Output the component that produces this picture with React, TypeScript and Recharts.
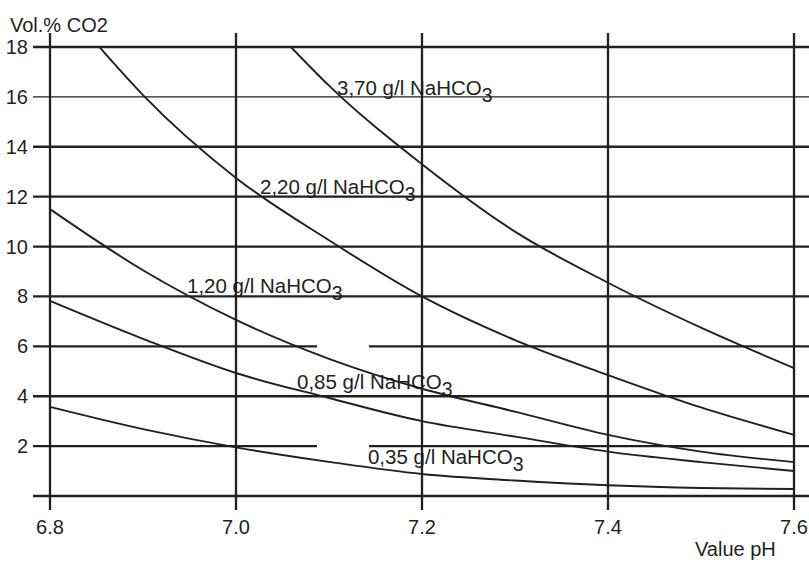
import React from "react";
import { LineChart, Line, XAxis, YAxis, ReferenceLine, ReferenceDot } from "recharts";

// ---- Data ----
const PH = [6.8, 6.9, 7.0, 7.1, 7.2, 7.3, 7.4, 7.5, 7.6];
const CO2_035 = [3.57, 2.68, 1.95, 1.37, 0.88, 0.62, 0.43, 0.32, 0.28];
const CO2_085 = [7.82, 6.3, 4.93, 3.93, 3.0, 2.38, 1.78, 1.36, 1.0];
const CO2_120 = [11.5, 9.05, 7.06, 5.5, 4.3, 3.38, 2.45, 1.78, 1.36];
const PH_220 = [6.853, 6.9, 7.0, 7.1, 7.2, 7.3, 7.4, 7.5, 7.6];
const CO2_220 = [18, 16.07, 12.75, 10.25, 8.0, 6.25, 4.85, 3.55, 2.45];
const PH_370 = [7.059, 7.1, 7.2, 7.3, 7.4, 7.5, 7.6];
const CO2_370 = [18, 16.45, 13.3, 10.6, 8.55, 6.75, 5.13];

const X_TICKS = [6.8, 7.0, 7.2, 7.4, 7.6];
const Y_TICKS = [2, 4, 6, 8, 10, 12, 14, 16, 18];
const H_LINES_FULL = [0, 4, 8, 10, 12, 14, 18];
const H_LINES_THIN = [16];
const H_LINES_GAP = [2, 6];

const LABELS = [
  { text: "3,70 g/l NaHCO", x: 7.1086, y: 16.08 },
  { text: "2,20 g/l NaHCO", x: 7.0258, y: 12.11 },
  { text: "1,20 g/l NaHCO", x: 6.9473, y: 8.14 },
  { text: "0,85 g/l NaHCO", x: 7.0656, y: 4.29 },
  { text: "0,35 g/l NaHCO", x: 7.1419, y: 1.28 },
];

// ---- Layout constants ----
const X_DOMAIN: [number, number] = [6.78172, 7.61613];
const Y_DOMAIN: [number, number] = [-0.561, 18.561];
const GAP_START = 7.0871;
const GAP_END = 7.143;
const INK = "#231f20";
const FONT = "'Liberation Sans', Arial, sans-serif";

const zip = (xs: number[], ys: number[]) => xs.map((x, i) => ({ x, v: ys[i] }));
const d035 = zip(PH, CO2_035);
const d085 = zip(PH, CO2_085);
const d120 = zip(PH, CO2_120);
const d220 = zip(PH_220, CO2_220);
const d370 = zip(PH_370, CO2_370);

const XTick = (props: any) => {
  const { x, y, payload } = props;
  return (
    <text x={x} y={y + 24} textAnchor="middle" fontSize={20} fontFamily={FONT} fill={INK}>
      {payload.value.toFixed(1)}
    </text>
  );
};

const YTick = (props: any) => {
  const { x, y, payload } = props;
  return (
    <text x={x - 5} y={y + 7} textAnchor="end" fontSize={20} fontFamily={FONT} fill={INK}>
      {payload.value}
    </text>
  );
};

const CurveLabel = (props: any) => {
  const { viewBox, text } = props;
  if (!viewBox) return null;
  return (
    <text x={viewBox.x} y={viewBox.y} fontSize={20.5} fontFamily={FONT} fill={INK}>
      {text}
      <tspan dy={7} fontSize={19.5}>3</tspan>
    </text>
  );
};

export default function App() {
  const lineProps = {
    type: "monotone" as const,
    dataKey: "v",
    stroke: INK,
    strokeWidth: 1.9,
    dot: false,
    activeDot: false,
    isAnimationActive: false,
  };
  return (
    <div style={{ position: "absolute", left: 0, top: 0, width: 809, height: 567, background: "#fff" }}>
      <LineChart width={809} height={567} margin={{ top: 33, right: 0, bottom: 0, left: 0 }}>
        <XAxis
          dataKey="x"
          type="number"
          domain={X_DOMAIN}
          ticks={X_TICKS}
          allowDataOverflow
          axisLine={false}
          tickLine={false}
          tickSize={0}
          tickMargin={0}
          height={57}
          tick={<XTick />}
          interval={0}
        />
        <YAxis
          type="number"
          domain={Y_DOMAIN}
          ticks={Y_TICKS}
          allowDataOverflow
          axisLine={false}
          tickLine={false}
          tickSize={0}
          tickMargin={0}
          width={33}
          tick={<YTick />}
          interval={0}
        />
        {X_TICKS.map((v) => (
          <ReferenceLine key={"vx" + v} x={v} stroke={INK} strokeWidth={2.3} />
        ))}
        {H_LINES_FULL.map((v) => (
          <ReferenceLine key={"hy" + v} y={v} stroke={INK} strokeWidth={2.3} />
        ))}
        {H_LINES_THIN.map((v) => (
          <ReferenceLine key={"ht" + v} y={v} stroke={INK} strokeWidth={1.4} />
        ))}
        {H_LINES_GAP.map((v) => (
          <ReferenceLine
            key={"hga" + v}
            segment={[
              { x: X_DOMAIN[0], y: v },
              { x: GAP_START, y: v },
            ]}
            stroke={INK}
            strokeWidth={2.3}
          />
        ))}
        {H_LINES_GAP.map((v) => (
          <ReferenceLine
            key={"hgb" + v}
            segment={[
              { x: GAP_END, y: v },
              { x: X_DOMAIN[1], y: v },
            ]}
            stroke={INK}
            strokeWidth={2.3}
          />
        ))}
        <Line data={d035} {...lineProps} />
        <Line data={d085} {...lineProps} />
        <Line data={d120} {...lineProps} />
        <Line data={d220} {...lineProps} />
        <Line data={d370} {...lineProps} />
        {LABELS.map((l) => (
          <ReferenceDot
            key={l.text + l.y}
            x={l.x}
            y={l.y}
            r={0}
            fill="none"
            stroke="none"
            label={<CurveLabel text={l.text} />}
          />
        ))}
        <text x={10} y={32} fontSize={20} fontFamily={FONT} fill={INK}>
          Vol.% CO2
        </text>
        <text x={695} y={556} fontSize={20} fontFamily={FONT} fill={INK}>
          Value pH
        </text>
      </LineChart>
    </div>
  );
}
